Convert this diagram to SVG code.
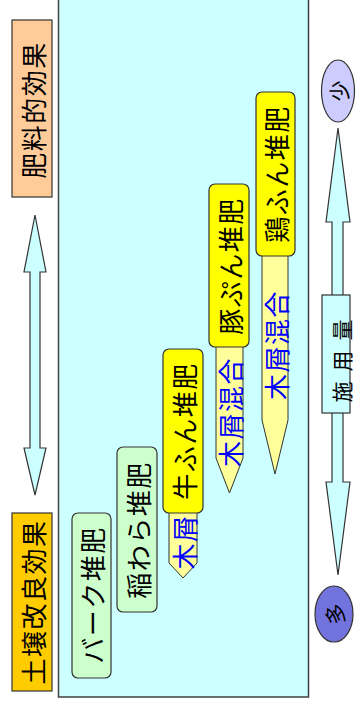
<svg xmlns="http://www.w3.org/2000/svg" width="356" height="704" viewBox="0 0 356 704">
<style>
.t{font-family:"Noto Sans CJK JP","Noto Sans",sans-serif;font-size:26px;text-anchor:middle;dominant-baseline:central;letter-spacing:1.5px;fill:#000}
.b{fill:#0000FF}
.box{stroke:#333;stroke-width:1.2}
.arr{fill:#CCFFFF;stroke:#333;stroke-width:1.2}
.pent{fill:#FFFF99;stroke:#333;stroke-width:1}
</style>
<rect x="0" y="0" width="356" height="704" fill="#fff"/>
<g id="panel"><rect x="58.5" y="-1" width="250" height="698" fill="#CCFFFF" stroke="#404040" stroke-width="1.5"/></g>
<g id="connectors">
<polygon class="arr" points="35,215 46,272 40,272 40,448 46,448 35,495 24,448 30,448 30,272 24,272"/>
<polygon class="arr" points="338,128 350,222 343,222 343,482 350,482 338,575 326,482 332,482 332,222 326,222"/>
</g>
<g id="fertilizer-effect"><rect class="box" x="12" y="20" width="40" height="177" fill="#FFCC99"/><text class="t" transform="rotate(-90 32 110)" x="32" y="110">肥料的効果</text></g>
<g id="soil-effect"><rect class="box" x="12" y="513" width="40" height="178" fill="#FFCC00"/><text class="t" transform="rotate(-90 32 602)" x="32" y="602">土壌改良効果</text></g>
<g id="bark"><rect class="box" x="72" y="513" width="39" height="165" rx="6" fill="#CCFFCC"/><text class="t" transform="rotate(-90 91.5 595)" x="91.5" y="595">バーク堆肥</text></g>
<g id="straw"><rect class="box" x="117" y="447" width="40" height="165" rx="6" fill="#CCFFCC"/><text class="t" transform="rotate(-90 137 530)" x="137" y="530">稲わら堆肥</text></g>
<g id="cow-sawdust"><polygon class="pent" points="169,510 197,510 197,563 183,578 169,563"/><text class="t b" transform="rotate(-90 183 542)" x="183" y="542">木屑</text></g>
<g id="cow"><rect class="box" x="163" y="349" width="40" height="164" rx="6" fill="#FFFF00"/><text class="t" transform="rotate(-90 183 431)" x="183" y="431">牛ふん堆肥</text></g>
<g id="pig-sawdust"><polygon class="pent" points="216,344 243,344 243,458 229.5,493 216,458"/><text class="t b" transform="rotate(-90 229.5 412)" x="229.5" y="412">木屑混合</text></g>
<g id="pig"><rect class="box" x="209" y="184" width="40" height="163" rx="6" fill="#FFFF00"/><text class="t" transform="rotate(-90 229 266)" x="229" y="266">豚ぷん堆肥</text></g>
<g id="chicken-sawdust"><polygon class="pent" points="262,253 288,253 288,420 275,474 262,420"/><text class="t b" transform="rotate(-90 275 345)" x="275" y="345">木屑混合</text></g>
<g id="chicken"><rect class="box" x="256" y="92" width="39" height="164" rx="6" fill="#FFFF00"/><text class="t" transform="rotate(-90 275.5 174)" x="275.5" y="174">鶏ふん堆肥</text></g>
<g id="amount"><rect class="box" x="322" y="295" width="28" height="118" fill="#CCFFFF"/><text class="t" style="font-size:21px;letter-spacing:10px" transform="rotate(-90 341 356)" x="341" y="356">施用量</text></g>
<g id="few"><ellipse class="box" cx="338" cy="91" rx="16.5" ry="31" fill="#CCCCFF"/><text class="t" style="font-size:21px;letter-spacing:0" transform="rotate(-90 338 91)" x="338" y="91">少</text></g>
<g id="many"><ellipse class="box" cx="334" cy="614" rx="19" ry="28" fill="#7373DE"/><text class="t" style="font-size:21px;letter-spacing:0" transform="rotate(-90 334 614)" x="334" y="614">多</text></g>
</svg>
